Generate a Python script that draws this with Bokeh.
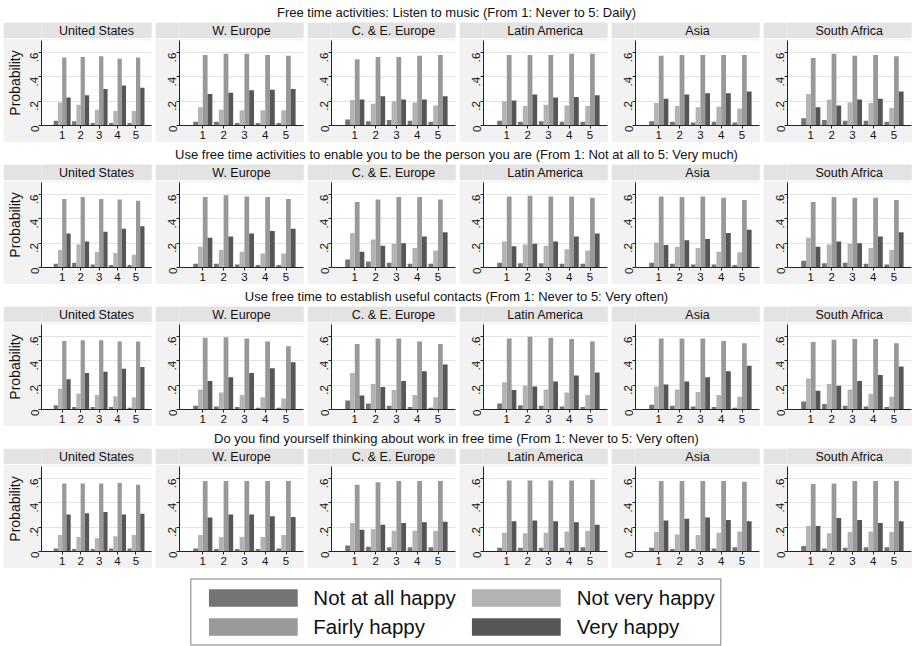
import math
from bokeh.plotting import figure
from bokeh.models import Range1d, FixedTicker, Label, Legend, LegendItem
from bokeh.layouts import column, row
from bokeh.embed import file_html
from bokeh.resources import INLINE

# ---------------- data ----------------
regions = ["United States", "W. Europe", "C. & E. Europe", "Latin America", "Asia", "South Africa"]
answers = [1, 2, 3, 4, 5]
happiness = ["Not at all happy", "Not very happy", "Fairly happy", "Very happy"]
y_ticks = [0, 0.2, 0.4, 0.6]
y_tick_labels = ["0", ".2", ".4", ".6"]

question_titles = [
    "Free time activities: Listen to music (From 1: Never to 5: Daily)",
    "Use free time activities to enable you to be the person you are (From 1: Not at all to 5: Very much)",
    "Use free time to establish useful contacts (From 1: Never to 5: Very often)",
    "Do you find yourself thinking about work in free time (From 1: Never to 5: Very often)",
]

# Q1: listen to music  (rows = regions, cols = answers 1..5)
music_not_at_all = [[0.04, 0.035, 0.02, 0.02, 0.02], [0.03, 0.03, 0.02, 0.02, 0.02],
                    [0.05, 0.035, 0.045, 0.04, 0.03], [0.04, 0.03, 0.035, 0.03, 0.03],
                    [0.035, 0.03, 0.025, 0.03, 0.025], [0.06, 0.045, 0.04, 0.04, 0.03]]
music_not_very = [[0.19, 0.17, 0.13, 0.12, 0.12], [0.15, 0.13, 0.125, 0.125, 0.125],
                  [0.21, 0.18, 0.20, 0.19, 0.165], [0.20, 0.16, 0.17, 0.165, 0.16],
                  [0.185, 0.16, 0.15, 0.155, 0.14], [0.26, 0.215, 0.19, 0.185, 0.145]]
music_fairly = [[0.56, 0.565, 0.57, 0.55, 0.56], [0.58, 0.59, 0.59, 0.58, 0.575],
                [0.545, 0.565, 0.565, 0.575, 0.58], [0.58, 0.58, 0.58, 0.59, 0.59],
                [0.575, 0.58, 0.58, 0.58, 0.58], [0.555, 0.59, 0.575, 0.58, 0.57]]
music_very = [[0.23, 0.25, 0.30, 0.33, 0.31], [0.26, 0.27, 0.29, 0.295, 0.30],
              [0.215, 0.24, 0.215, 0.215, 0.24], [0.205, 0.255, 0.23, 0.235, 0.25],
              [0.22, 0.255, 0.265, 0.265, 0.28], [0.15, 0.165, 0.215, 0.22, 0.28]]

# Q2: be the person you are
person_not_at_all = [[0.03, 0.04, 0.025, 0.02, 0.02], [0.03, 0.03, 0.025, 0.02, 0.02],
                     [0.065, 0.05, 0.04, 0.03, 0.03], [0.04, 0.035, 0.035, 0.03, 0.03],
                     [0.04, 0.03, 0.025, 0.025, 0.02], [0.055, 0.035, 0.04, 0.03, 0.025]]
person_not_very = [[0.145, 0.19, 0.13, 0.12, 0.105], [0.17, 0.145, 0.13, 0.115, 0.115],
                   [0.285, 0.23, 0.195, 0.16, 0.14], [0.215, 0.19, 0.18, 0.15, 0.14],
                   [0.205, 0.17, 0.16, 0.13, 0.125], [0.245, 0.19, 0.195, 0.16, 0.145]]
person_fairly = [[0.565, 0.58, 0.565, 0.56, 0.55], [0.58, 0.595, 0.585, 0.58, 0.565],
                 [0.54, 0.56, 0.58, 0.58, 0.56], [0.585, 0.59, 0.585, 0.585, 0.575],
                 [0.585, 0.58, 0.585, 0.575, 0.555], [0.54, 0.58, 0.575, 0.575, 0.555]]
person_very = [[0.28, 0.215, 0.295, 0.32, 0.34], [0.245, 0.255, 0.28, 0.30, 0.32],
               [0.13, 0.18, 0.20, 0.255, 0.29], [0.175, 0.195, 0.215, 0.255, 0.28],
               [0.185, 0.225, 0.235, 0.285, 0.31], [0.17, 0.215, 0.20, 0.255, 0.29]]

# Q3: establish useful contacts
contacts_not_at_all = [[0.035, 0.02, 0.02, 0.02, 0.015], [0.03, 0.025, 0.02, 0.015, 0.015],
                       [0.075, 0.05, 0.03, 0.02, 0.015], [0.05, 0.035, 0.03, 0.025, 0.02],
                       [0.04, 0.03, 0.025, 0.02, 0.015], [0.065, 0.045, 0.03, 0.025, 0.02]]
contacts_not_very = [[0.17, 0.13, 0.12, 0.11, 0.10], [0.165, 0.14, 0.12, 0.10, 0.09],
                     [0.30, 0.21, 0.16, 0.12, 0.10], [0.225, 0.195, 0.165, 0.14, 0.12],
                     [0.19, 0.165, 0.145, 0.12, 0.105], [0.255, 0.21, 0.165, 0.13, 0.105]]
contacts_fairly = [[0.565, 0.57, 0.57, 0.56, 0.56], [0.59, 0.595, 0.585, 0.56, 0.52],
                   [0.54, 0.585, 0.585, 0.56, 0.54], [0.585, 0.60, 0.59, 0.58, 0.56],
                   [0.585, 0.585, 0.585, 0.565, 0.545], [0.555, 0.575, 0.58, 0.58, 0.545]]
contacts_very = [[0.25, 0.30, 0.31, 0.335, 0.35], [0.235, 0.265, 0.30, 0.34, 0.39],
                 [0.115, 0.185, 0.235, 0.315, 0.37], [0.16, 0.19, 0.23, 0.28, 0.305],
                 [0.205, 0.23, 0.265, 0.315, 0.36], [0.155, 0.195, 0.235, 0.285, 0.355]]

# Q4: thinking about work in free time
work_not_at_all = [[0.025, 0.02, 0.02, 0.025, 0.025], [0.025, 0.02, 0.02, 0.02, 0.025],
                   [0.05, 0.04, 0.035, 0.035, 0.035], [0.03, 0.03, 0.03, 0.03, 0.035],
                   [0.03, 0.02, 0.02, 0.025, 0.035], [0.045, 0.025, 0.03, 0.035, 0.035]]
work_not_very = [[0.135, 0.12, 0.11, 0.125, 0.135], [0.135, 0.12, 0.12, 0.12, 0.135],
                 [0.235, 0.185, 0.17, 0.17, 0.17], [0.155, 0.15, 0.155, 0.165, 0.17],
                 [0.16, 0.14, 0.135, 0.155, 0.165], [0.21, 0.15, 0.16, 0.165, 0.16]]
work_fairly = [[0.56, 0.56, 0.56, 0.565, 0.55], [0.58, 0.58, 0.58, 0.58, 0.58],
               [0.55, 0.57, 0.58, 0.58, 0.58], [0.585, 0.585, 0.585, 0.585, 0.59],
               [0.58, 0.58, 0.58, 0.58, 0.575], [0.555, 0.56, 0.58, 0.58, 0.58]]
work_very = [[0.305, 0.315, 0.325, 0.305, 0.31], [0.28, 0.305, 0.305, 0.29, 0.285],
             [0.18, 0.22, 0.235, 0.24, 0.245], [0.25, 0.255, 0.25, 0.24, 0.22],
             [0.255, 0.27, 0.28, 0.26, 0.25], [0.21, 0.275, 0.26, 0.235, 0.25]]

question_data = [
    [music_not_at_all, music_not_very, music_fairly, music_very],
    [person_not_at_all, person_not_very, person_fairly, person_very],
    [contacts_not_at_all, contacts_not_very, contacts_fairly, contacts_very],
    [work_not_at_all, work_not_very, work_fairly, work_very],
]

# ---------------- style ----------------
FONT = "Liberation Sans"
COLORS = ["#747474", "#b3b3b3", "#999999", "#565656"]
OFFSETS = [-0.345, -0.115, 0.115, 0.345]
BAR_W = 0.23
PANEL_W = 149
GAP = 3
TOTAL_W = 912
HEADER_BG = "#e3e3e3"
PANEL_BG = "#f2f2f2"


def text_fig(txt, w, h, size, bg, ypos):
    p = figure(width=w, height=h, output_backend="svg", toolbar_location=None,
               x_range=Range1d(0, 1), y_range=Range1d(0, 1),
               x_axis_type=None, y_axis_type=None, min_border=0)
    p.grid.visible = False
    p.outline_line_color = None
    p.background_fill_color = bg
    p.border_fill_color = bg
    p.add_layout(Label(x=0.5, y=ypos, text=txt, text_align="center", text_baseline="middle",
                       text_font=FONT, text_font_size=size, text_color="#111111"))
    return p


def panel(series, reg_idx, first):
    p = figure(width=PANEL_W, height=104, output_backend="svg", toolbar_location=None,
               x_range=Range1d(-0.12, 5.84), y_range=Range1d(0, 0.7),
               min_border_left=37 if first else 24, min_border_right=1,
               min_border_top=2, min_border_bottom=17)
    p.background_fill_color = "white"
    p.border_fill_color = PANEL_BG
    p.outline_line_color = None
    for k in range(4):
        xs = [a + OFFSETS[k] for a in answers]
        p.vbar(x=xs, top=series[k][reg_idx], width=BAR_W, bottom=0,
               fill_color=COLORS[k], line_color=None)
    p.xgrid.visible = False
    p.ygrid.ticker = FixedTicker(ticks=y_ticks)
    p.ygrid.grid_line_color = "#e3e3e3"
    p.ygrid.grid_line_width = 1

    xa = p.xaxis[0]
    xa.ticker = FixedTicker(ticks=answers)
    xa.major_label_text_font = FONT
    xa.major_label_text_font_size = "11.5px"
    xa.major_label_text_color = "#111111"
    xa.major_tick_out = 3
    xa.major_tick_in = 0
    xa.major_label_standoff = 2
    xa.minor_tick_line_color = None
    xa.axis_line_color = "#222222"
    xa.major_tick_line_color = "#222222"

    ya = p.yaxis[0]
    ya.ticker = FixedTicker(ticks=y_ticks)
    ya.major_label_overrides = {t: l for t, l in zip(y_ticks, y_tick_labels)}
    ya.major_label_orientation = math.pi / 2
    ya.major_label_text_font = FONT
    ya.major_label_text_font_size = "11.5px"
    ya.major_label_text_color = "#111111"
    ya.major_tick_out = 3
    ya.major_tick_in = 0
    ya.major_label_standoff = 4
    ya.minor_tick_line_color = None
    ya.axis_line_color = "#222222"
    ya.major_tick_line_color = "#222222"
    if first:
        ya.axis_label = "Probability"
        ya.axis_label_text_font = FONT
        ya.axis_label_text_font_size = "14px"
        ya.axis_label_text_font_style = "normal"
        ya.axis_label_text_color = "#111111"
        ya.axis_label_standoff = 1
    return p


blocks = []
for qi, title in enumerate(question_titles):
    blocks.append(text_fig(title, TOTAL_W, 22, "13px", "white", 0.45))
    cols = []
    for ri, reg in enumerate(regions):
        hdr = text_fig(reg, PANEL_W, 16, "12.5px", HEADER_BG, 0.5)
        pl = panel(question_data[qi], ri, ri == 0)
        cols.append(column(hdr, pl, spacing=0))
    blocks.append(row(cols, spacing=GAP, margin=(0, 0, 0, 3)))

# legend (proxy renderers of zero height carry the swatch styles)
lg = figure(width=TOTAL_W, height=78, output_backend="svg", toolbar_location=None,
            x_range=Range1d(0, 1), y_range=Range1d(0, 1),
            x_axis_type=None, y_axis_type=None, min_border=0, min_border_top=10)
lg.grid.visible = False
lg.outline_line_color = None
lg.background_fill_color = "white"
lg.border_fill_color = "white"
items = []
for k, name in enumerate(happiness):
    r = lg.vbar(x=[0.5], top=[0], bottom=[0], width=0.01, fill_color=COLORS[k], line_color=None)
    items.append(LegendItem(label=name, renderers=[r]))
legend = Legend(items=items, ncols=2, orientation="horizontal", location="center",
                glyph_width=111, glyph_height=22, label_standoff=5,
                label_text_font=FONT, label_text_font_size="20.5px", label_text_color="#111111",
                label_height=22, spacing=5, padding=6, margin=0,
                border_line_color="black", border_line_width=1,
                background_fill_color="white", background_fill_alpha=1.0)
lg.add_layout(legend, "center")
blocks.append(lg)

page = column(blocks, spacing=0)
open("out.html", "w").write(file_html(page, INLINE))
